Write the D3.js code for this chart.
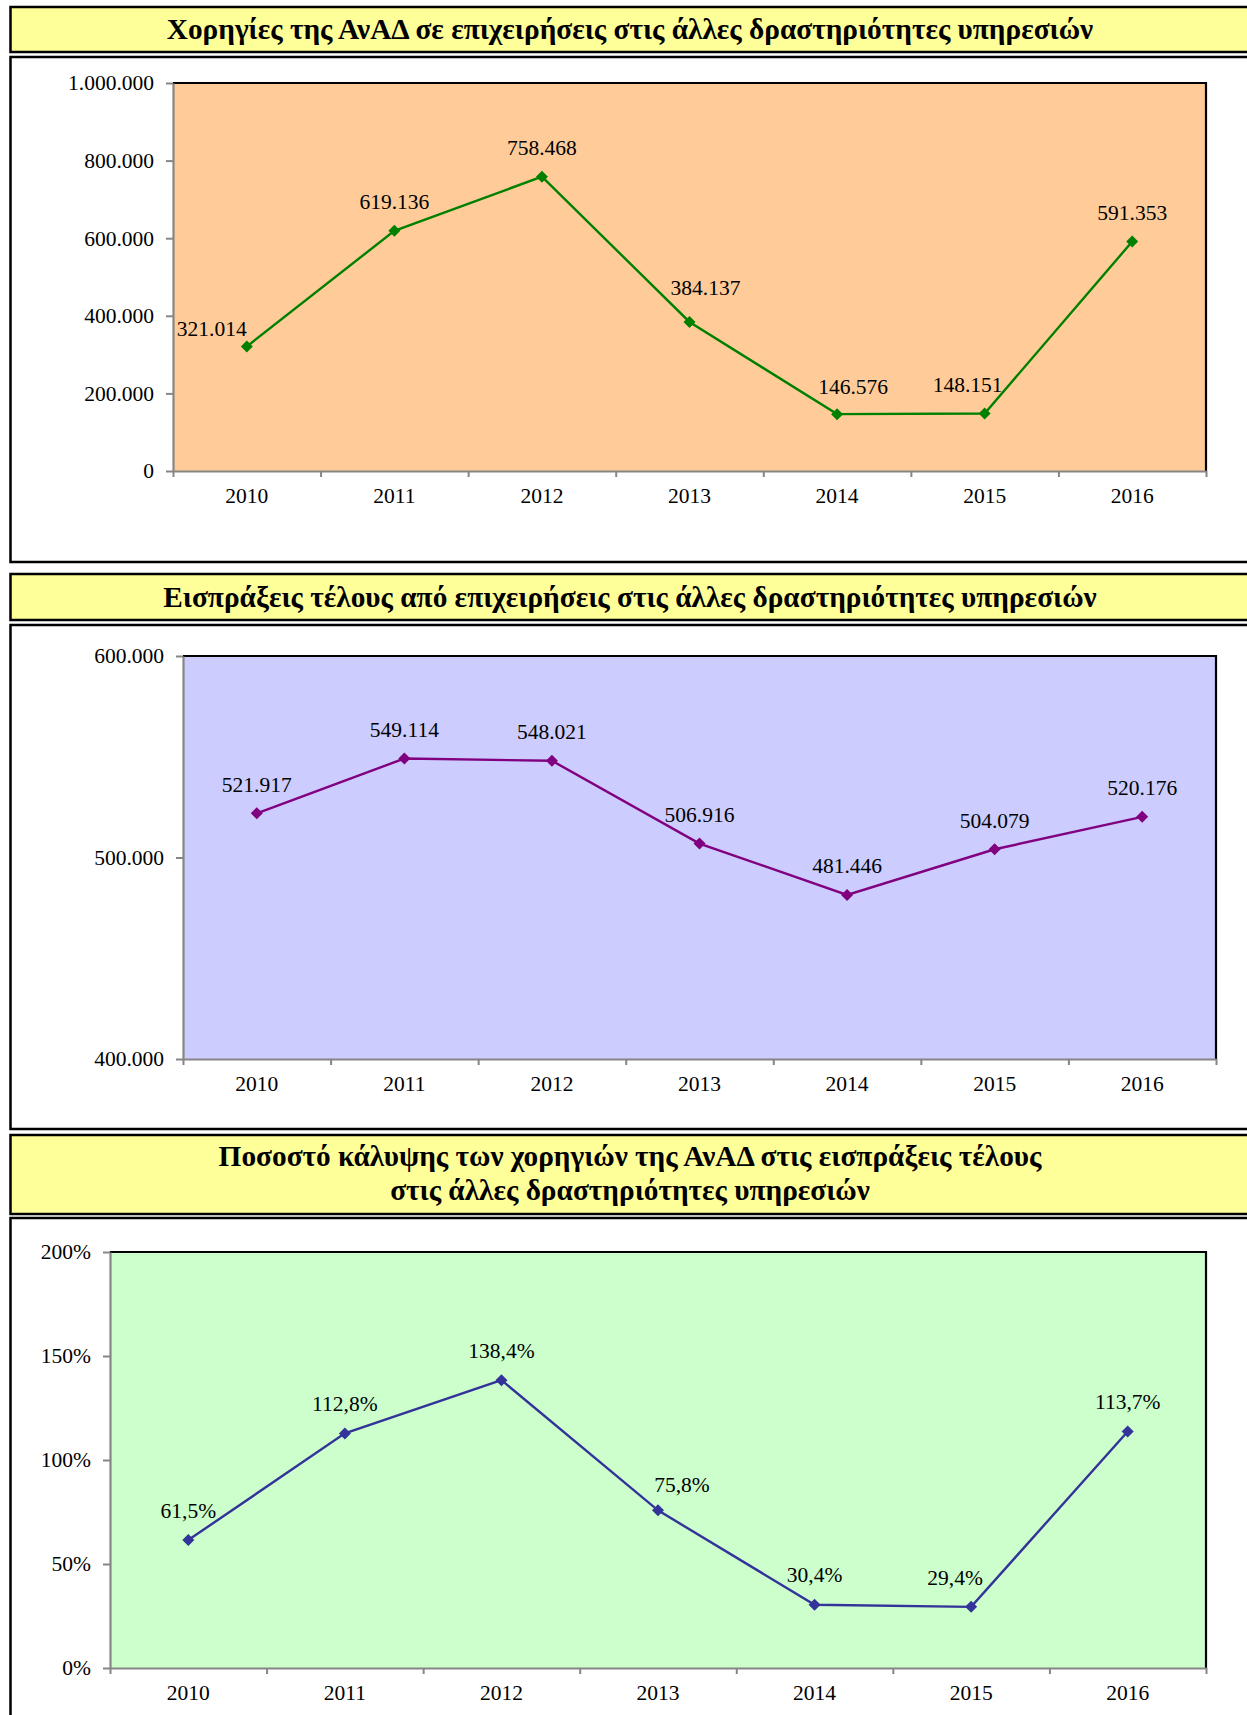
<!DOCTYPE html>
<html><head><meta charset="utf-8">
<script src="https://cdn.jsdelivr.net/npm/d3@7"></script>
<style>
html,body{margin:0;padding:0;background:#fff;overflow:hidden}
svg{display:block}
</style></head><body>
<svg id="c" width="1247" height="1715"></svg>
<script>
// ---------- data ----------
const years = ["2010","2011","2012","2013","2014","2015","2016"];
const subsidies = [321014, 619136, 758468, 384137, 146576, 148151, 591353];
const receipts  = [521917, 549114, 548021, 506916, 481446, 504079, 520176];
const coverage  = [61.5, 112.8, 138.4, 75.8, 30.4, 29.4, 113.7];
const subsidyTicks  = [0, 200000, 400000, 600000, 800000, 1000000];
const receiptTicks  = [400000, 500000, 600000];
const coverageTicks = [0, 50, 100, 150, 200];
const title1 = ["Χορηγίες της ΑνΑΔ σε επιχειρήσεις στις άλλες δραστηριότητες υπηρεσιών"];
const title2 = ["Εισπράξεις τέλους από επιχειρήσεις στις άλλες δραστηριότητες υπηρεσιών"];
const title3 = ["Ποσοστό κάλυψης των χορηγιών της ΑνΑΔ στις εισπράξεις τέλους",
                "στις άλλες δραστηριότητες υπηρεσιών"];

// ---------- formatting (Greek locale) ----------
const gr = d3.formatLocale({decimal: ",", thousands: ".", grouping: [3], currency: ["", "€"]});
const fmtInt = gr.format(",.0f");
const fmtPct1 = v => gr.format(".1f")(v) + "%";
const fmtPct0 = v => gr.format(".0f")(v) + "%";

const FONT = "'Liberation Serif','Times New Roman',Times,serif";
const FS = 21.5;
const TFS = 29.3;

const svg = d3.select("#c");

const panels = [
  {
    title: title1, titleBox: [7, 52], titleY: [29],
    box: [57, 562], plot: {l: 173, r: 1206, t: 83, b: 471},
    values: subsidies, ticks: subsidyTicks, domain: [0, 1000000],
    tickFmt: fmtInt, labelFmt: fmtInt,
    bg: "#FFCC99", color: "#008000",
    offsets: [[-35, -18], [0, -29], [0, -29], [16, -34], [16, -28], [-17, -29], [0, -29]]
  },
  {
    title: title2, titleBox: [574, 620], titleY: [597],
    box: [625, 1129], plot: {l: 183, r: 1216, t: 656, b: 1059},
    values: receipts, ticks: receiptTicks, domain: [400000, 600000],
    tickFmt: fmtInt, labelFmt: fmtInt,
    bg: "#CCCCFF", color: "#800080",
    offsets: [[0, -29], [0, -29], [0, -29], [0, -29], [0, -29], [0, -29], [0, -29]]
  },
  {
    title: title3, titleBox: [1135, 1214], titleY: [1156, 1190],
    box: [1218, 1740], plot: {l: 110, r: 1206, t: 1252, b: 1668},
    values: coverage, ticks: coverageTicks, domain: [0, 200],
    tickFmt: fmtPct0, labelFmt: fmtPct1,
    bg: "#CCFFCC", color: "#333399",
    offsets: [[0, -30], [0, -30], [0, -30], [24, -26], [0, -30], [-16, -29], [0, -30]]
  }
];

panels.forEach(p => {
  // title box
  svg.append("rect")
    .attr("x", 10.5).attr("y", p.titleBox[0])
    .attr("width", 1300).attr("height", p.titleBox[1] - p.titleBox[0])
    .attr("fill", "#FFFF99").attr("stroke", "#000").attr("stroke-width", 2.5);
  p.title.forEach((t, i) => {
    svg.append("text")
      .attr("x", 630).attr("y", p.titleY[i]).attr("dy", "0.35em")
      .attr("text-anchor", "middle")
      .attr("font-family", FONT).attr("font-weight", "bold").attr("font-size", TFS)
      .attr("fill", "#000").text(t);
  });
  // chart box
  svg.append("rect")
    .attr("x", 10.5).attr("y", p.box[0])
    .attr("width", 1300).attr("height", p.box[1] - p.box[0])
    .attr("fill", "#fff").attr("stroke", "#000").attr("stroke-width", 2.5);

  const P = p.plot;
  const g = svg.append("g");
  const x = d3.scaleBand().domain(years).range([P.l, P.r]).padding(0);
  const xi = d3.scaleLinear().domain([0, years.length]).range([P.l, P.r]);
  const y = d3.scaleLinear().domain(p.domain).range([P.b, P.t]);

  // plot area
  g.append("rect")
    .attr("x", P.l).attr("y", P.t).attr("width", P.r - P.l).attr("height", P.b - P.t)
    .attr("fill", p.bg);
  g.append("path")
    .attr("d", `M${P.l},${P.t}H${P.r}V${P.b}`)
    .attr("fill", "none").attr("stroke", "#000").attr("stroke-width", 2.2);

  // y axis
  const ya = g.append("g").attr("transform", `translate(${P.l},0)`)
    .call(d3.axisLeft(y).tickValues(p.ticks).tickSize(7).tickSizeOuter(0).tickPadding(12).tickFormat(p.tickFmt));
  ya.select(".domain").attr("stroke", "#868686").attr("stroke-width", 2.2);
  ya.selectAll(".tick line").attr("stroke", "#868686").attr("stroke-width", 2);
  ya.selectAll("text").attr("font-family", FONT).attr("font-size", FS).attr("fill", "#000");

  // x axis: boundary ticks
  const xb = g.append("g").attr("transform", `translate(0,${P.b})`)
    .call(d3.axisBottom(xi).tickValues(d3.range(years.length + 1)).tickSize(6).tickSizeOuter(0).tickFormat(""));
  xb.select(".domain").attr("stroke", "#868686").attr("stroke-width", 2.2);
  xb.selectAll(".tick line").attr("stroke", "#868686").attr("stroke-width", 2);

  // x axis: category labels
  const xl = g.append("g").attr("transform", `translate(0,${P.b})`)
    .call(d3.axisBottom(x).tickSize(0).tickPadding(16.5));
  xl.select(".domain").remove();
  xl.selectAll("text").attr("font-family", FONT).attr("font-size", FS).attr("fill", "#000");

  // line
  const pts = p.values.map((v, i) => ({v, i, cx: x(years[i]) + x.bandwidth() / 2, cy: y(v)}));
  g.append("path")
    .datum(pts)
    .attr("d", d3.line().x(d => d.cx).y(d => d.cy))
    .attr("fill", "none").attr("stroke", p.color).attr("stroke-width", 2.4);

  // markers
  g.selectAll(".mk").data(pts).enter().append("path")
    .attr("d", d3.symbol(d3.symbolSquare, 72))
    .attr("transform", d => `translate(${d.cx},${d.cy}) rotate(45)`)
    .attr("fill", p.color);

  // data labels
  g.selectAll(".lb").data(pts).enter().append("text")
    .attr("x", d => d.cx + p.offsets[d.i][0])
    .attr("y", d => d.cy + p.offsets[d.i][1])
    .attr("dy", "0.35em")
    .attr("text-anchor", "middle")
    .attr("font-family", FONT).attr("font-size", FS).attr("fill", "#000")
    .text(d => p.labelFmt(d.v));
});
</script>
</body></html>
